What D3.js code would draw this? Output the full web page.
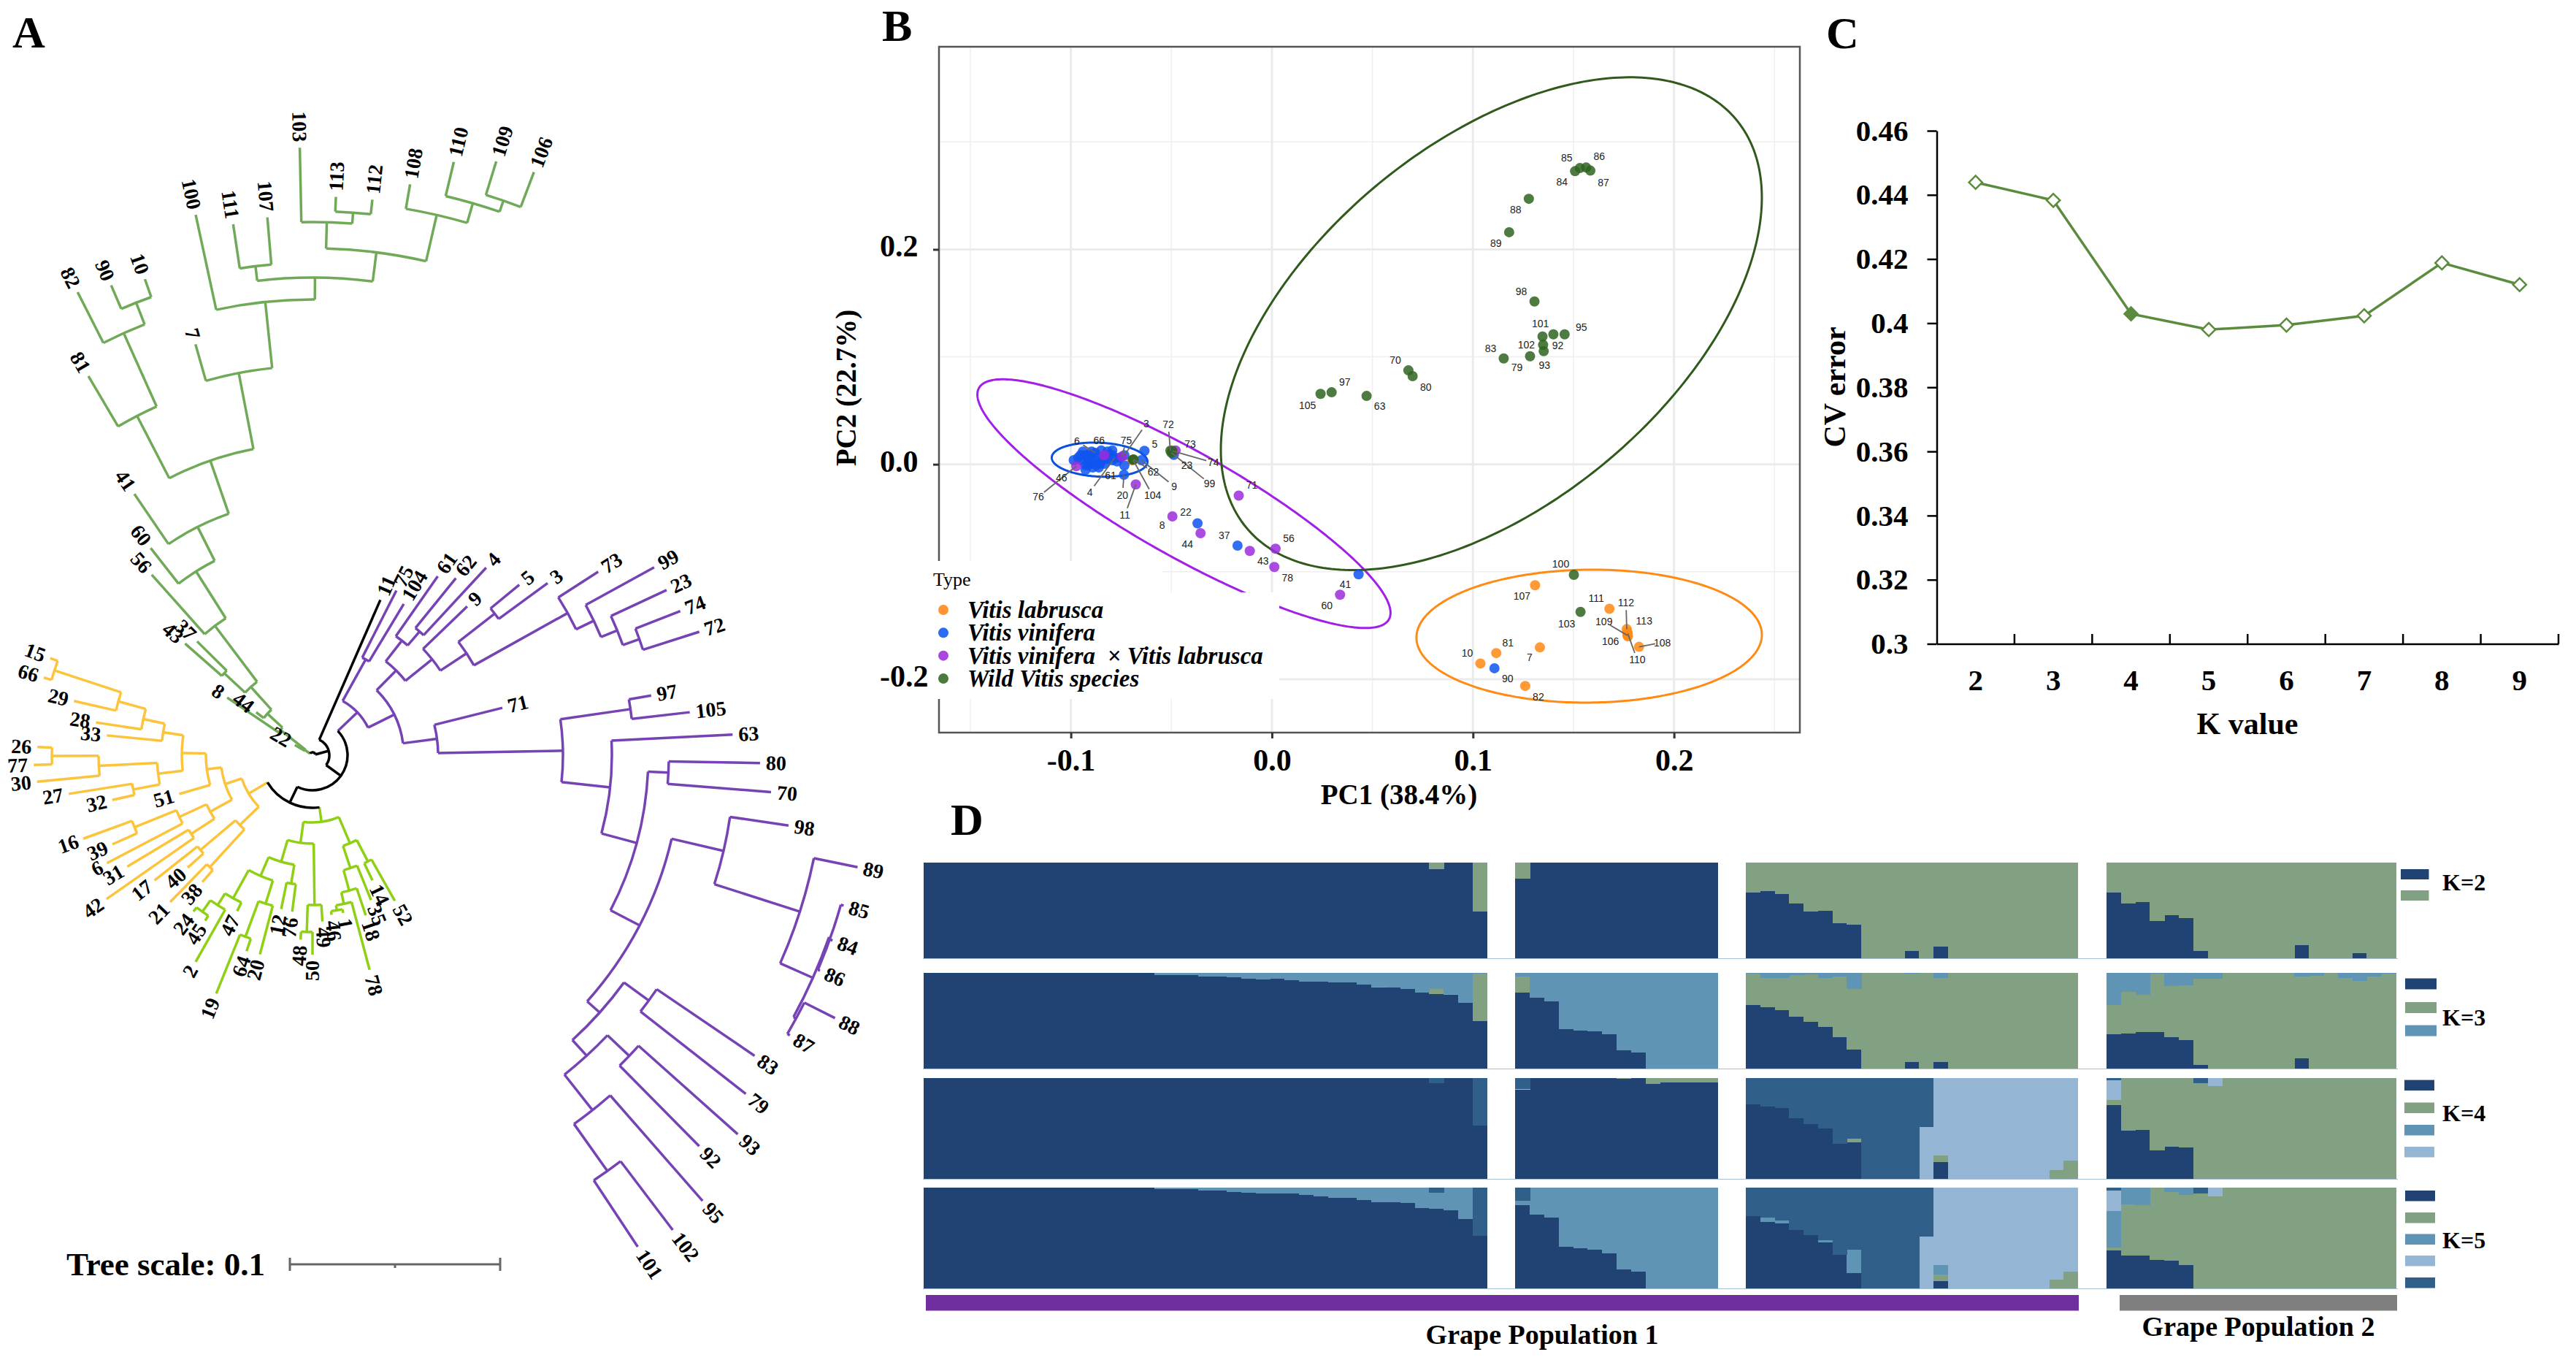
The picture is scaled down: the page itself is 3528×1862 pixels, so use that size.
<!DOCTYPE html>
<html>
<head>
<meta charset="utf-8">
<script src="https://cdn.jsdelivr.net/npm/d3@7"></script>
<style>
  body { margin: 0; background: white; }
</style>
</head>
<body>
<div id="fig"></div>
<script>
// ---- A: tree, [radius, child, child] for nodes and [name, radius, angle] for tips
// radius: 288 units = 0.1 on the scale bar, angle: degrees clockwise from north
const greenClade = [12, ["22",28,-60], [56, ["8",141,-56], [84, ["44",97,-52.7], [126,
  [165, ["43",232,-48.8], ["37",222,-45.4]],
  [222, ["56",331,-41.7], [298, ["60",360,-38], [350, ["41",433,-34.3], [427,
    [523, ["81",603,-30.6], [633, ["82",711,-26.9], [665, ["90",700,-23.2], ["10",691,-19.4]]]],
    [533, ["7",585,-15.9], [624, ["100",757,-12.2], [654,
      [674, ["111",735,-8.5], ["107",739,-4.8]],
      [694,
        [730, ["103",832,-1.2], [745, ["113",765,2.4], ["112",765,6.15]]],
        [759, ["108",793,9.7], [787, ["110",835,13.4], [803, ["109",851,17.2], ["106",854,20.8]]]]
      ]
    ]]]
  ]]]]
]]]]

const purpleUpper = [163,
  [199, ["61",299,35], [224, ["62",312,39], ["4",350,42.8]]],
  [210, ["9",294,46.1], [253,
    [316, ["5",367,50.5], ["3",399,53.8]],
    [400, ["73",465,57.3], [427, ["99",534,61.2], [451, ["23",535,65], [475, ["74",541,68.6], ["72",556,72.3]]]]]
  ]]
]
const purpleLower = [528,
  [570, ["83",732,124.2], ["79",753,128]],
  [557,
    [598, ["93",780,131.7], ["92",753,135.3]],
    [619, ["95",811,138.8], [698, ["102",816,142.8], ["101",807,146.5]]]
  ]
]
const purpleWild = [578, ["98",659,98.4], [701, ["89",762,101.6], [750,
  [752, ["85",756,105.8], ["84",756,109.6], ["86",755,113]],
  [754, ["88",801,116.7], ["87",758,120.4]]
]]]
const purpleClade = [85,
  [150, ["75",253,27], ["104",242,31.1]],
  [125, purpleUpper,
    [172, ["71",268,76], [343,
      [440, ["97",471,80], ["105",520,83.5]],
      [410, ["63",576,87.2], [460,
        [488, ["80",613,91], ["70",630,94.6]],
        [505, purpleWild, purpleLower]
      ]]
    ]]
  ]
]

const limeClade = [92,
  [121,
    [205, ["49",228,176.6], [242, ["50",273,180], ["48",253,183.7]]],
    [152,
      [178, ["76",216,187.4], ["12",215,191.5]],
      [180,
        [213, ["20",282,194.8], [265, ["64",283,198.6], ["19",352,202]]],
        [224, ["47",237,205.8], [243, ["2",325,209.5], [262, ["45",270,213], ["24",269,217.3]]]]
      ]
    ]
  ],
  [131,
    [164, ["52",229,150.5], ["14",190,154.4]],
    [163, ["35",214,158], [192, ["18",231,161.6], [208, ["78",304,165.1], [215, ["1",220,169], ["46",220,173.2]]]]]
  ]
]

const yellowClade = [102,
  [126,
    [146,
      [179,
        [207, [237, [276, [372, ["15",383,290.3], ["66",383,286.1]], ["29",335,282.8]], ["28",300,278.6]], ["33",283,275.5]],
        [213, [293, [357, ["26",377,271.7], ["77",382,268]], ["30",379,264.5]], [250, ["27",338,261], ["32",281,257.4]]]
      ],
      ["51",190,253.8]
    ],
    [160,
      [201, [263, ["16",334,250], ["39",300,246]], ["6",318,242.3]],
      [198, ["31",296,239], ["42",344,235.1]]
    ]
  ],
  [138,
    [201, ["17",276,231.6], ["40",230,228]],
    [208, ["21",280,224.1], ["38",230,221]]
  ]
]

const treeRoot = [4, greenClade, [23, ["11",232,23.6], [48, purpleClade, [72, limeClade, yellowClade]]]]
const cladeColors = new Map([[greenClade, "#70aa58"], [purpleClade, "#7543b3"], [limeClade, "#8fd014"], [yellowClade, "#fbc43a"]])

const scaleBarValues = [0, 0.05, 0.1]

// ---- B: PCA, [sample, PC1, PC2]
const labruscaPts = [["107",.1309,-.1126],["111",.1679,-.1345],["112",.1765,-.1534],["113",.1768,-.1563],["109",.1768,-.1592],
  ["110",.177,-.1575],["106",.1771,-.1602],["108",.1826,-.1699],["7",.1333,-.1704],["81",.1116,-.1757],["10",.1037,-.1854],["82",.126,-.2063],["",-.0697,.0039]]
const viniferaPts = [["90",.1107,-.1898],["41",.0431,-.1024],["37",-.0171,-.0757],["22",-.037,-.0549],
  ["",-.0986,.0039],["",-.094,.0118],["",-.0946,.0039],["46",-.0927,-.0052],["",-.0903,.0084],["6",-.0879,.0107],["66",-.0849,.0129],
  ["",-.0794,.0129],["4",-.0782,.0061],["",-.0855,.0005],["",-.0903,.0005],["",-.0927,.0084],["",-.0885,.0039],["",-.0843,.0039],
  ["",-.0812,.0084],["3",-.0734,.0084],["61",-.077,.0027],["",-.0734,-.0011],["20",-.0736,-.0097],["5",-.0634,.0125],["9",-.0649,.0039],
  ["",-.0915,.005],["",-.0867,.0061],["",-.0952,.0084],["",-.0831,.0084],["",-.0873,-.0007],["",-.0794,.0084],["23",-.0488,.0088],
  ["",-.0915,-.0007],["",-.0891,-.0029],["",-.0861,-.0029],["",-.0964,.0061],["",-.0818,.005],["",-.0831,.0005],["",-.0758,.0061],
  ["",-.0897,.0118],["",-.0818,.0118],["",-.0927,-.0007],["",-.0794,.0039]]
const hybridPts = [["71",-.0165,-.0291],["8",-.0495,-.0485],["44",-.0355,-.0641],["43",-.011,-.0806],["56",.0018,-.0786],["78",.0012,-.0956],
  ["60",.0339,-.1214],["76",-.0973,-.0018],["",-.0834,.0084],["75",-.0746,.0073],["11",-.0677,-.0188],["73",-.0479,.0129]]
const wildPts = [["84",.1508,.2728],["85",.1532,.2757],["86",.1563,.2762],["87",.1584,.2733],["88",.1278,.2471],["89",.118,.216],["98",.1306,.1515],
  ["95",.1456,.1209],["92",.14,.1209],["101",.1346,.1189],["102",.1349,.1112],["93",.1352,.1053],["79",.1284,.1005],["83",.1153,.0985],
  ["70",.0679,.0874],["80",.07,.082],["63",.0471,.0636],["97",.0297,.067],["105",.0242,.0655],["100",.1502,-.1029],["103",.1535,-.1374],
  ["72",-.0505,.0127],["74",-.0495,.0125],["99",-.0499,.0107],["62",-.0688,.0045],["104",-.0691,.0042]]

// confidence ellipses: extent of PC1, extent of PC2 and the PC1 value where PC2 is largest
const labruscaEllipse = {x: [.0719, .2437], y: [-.2218, -.0981], xAtTop: .1596}
const viniferaEllipse = {x: [-.1095, -.0619], y: [-.0116, .0202], xAtTop: -.0885}
const hybridEllipse = {x: [-.1465, .059], y: [-.1524, .0791], xAtTop: -.1339}
const wildEllipse = {x: [-.0254, .2437], y: [-.0985, .3602], xAtTop: .178}

const pcaTypes = ["Vitis labrusca", "Vitis vinifera", "Vitis vinifera\u00a0 × Vitis labrusca", "Wild Vitis species"]
const pcaXMajor = [-0.1, 0, 0.1, 0.2]
const pcaYMajor = [-0.2, 0, 0.2]
const pcaXMinor = [-0.15, -0.05, 0.05, 0.15, 0.25]
const pcaYMinor = [-0.1, 0.1, 0.3]

// ---- C: cross validation
const kValues = [2, 3, 4, 5, 6, 7, 8, 9]
const cvError = [.4439, .4383, .4029, .398, .3994, .4023, .4188, .412]
const cvTicks = [.3, .32, .34, .36, .38, .4, .42, .44, .46]

// ---- D: admixture, percent per bar, four groups of accessions
const k2Navy = [
  [100,100,100,100,100,100,100,100,100,100,100,100,100,100,100,100,100,100,100,100,100,100,100,100,100,100,100,100,100,100,100,100,100,100,100,93,100,100,49],
  [83,100,100,100,100,100,100,100,100,100,100,100,100,100],
  [69,70,67,57,49,50,37,35,0,0,0,8,0,12,0,0,0,0,0,0,0,0,0],
  [69,57,59,39,45,42,8,0,0,0,0,0,0,14,0,0,0,5,0,0]]
const k2Sage = [
  [0,0,0,0,0,0,0,0,0,0,0,0,0,0,0,0,0,0,0,0,0,0,0,0,0,0,0,0,0,0,0,0,0,0,0,7,0,0,51],
  [17,0,0,0,0,0,0,0,0,0,0,0,0,0],
  [31,30,33,43,51,50,63,65,100,100,100,92,100,88,100,100,100,100,100,100,100,100,100],
  [31,43,41,61,55,58,92,100,100,100,100,100,100,86,100,100,100,95,100,100]]

const k3Navy = [
  [100,100,100,100,100,100,100,100,100,100,100,100,100,100,100,100,97.5,97.5,97.5,96.5,96.5,95.5,94,93,94,92,91,90.5,90,90,87.5,85,85,83.5,79.5,78,77,69,49.5],
  [79.5,74,70,41.5,40,39,36,19,17,0,0,0,0,0],
  [66.5,64.5,61,54,49,43.5,32.5,19.5,0,0,0,7,0,7,0,0,0,0,0,0,0,0,0],
  [36,37,38,38,32.5,30,3.5,0,0,0,0,0,0,10.5,0,0,0,0,0,0]]
const k3Sage = [
  [0,0,0,0,0,0,0,0,0,0,0,0,0,0,0,0,0,0,0,0,0,0,0,.5,0,0,0,0,0,0,0,.5,0,0,0,5.5,.5,0,50],
  [16.5,0,0,0,0,0,0,0,0,0,0,0,0,0],
  [32.5,30,33.5,43.5,49.5,51,63.5,63.5,100,100,100,92.5,100,88,100,100,100,100,100,100,100,100,100],
  [30.5,43,39,61.5,54,57,90.5,94,100,100,100,100,100,85.5,97,100,95,91.5,96,99.5]]
const k3Mid = [
  [0,0,0,0,0,0,0,0,0,0,0,0,0,0,0,0,2.5,2.5,2.5,3.5,3.5,4.5,6,6.5,6,8,9,9.5,10,10,12.5,14.5,15,16.5,20.5,16.5,22.5,31,.5],
  [4,26,30,58.5,60,61,64,81,83,100,100,100,100,100],
  [1,5.5,5.5,2.5,1.5,5.5,4,17,0,0,0,.5,0,5,0,0,0,0,0,0,0,0,0],
  [33.5,20,23,.5,13.5,13,6,6,0,0,0,0,0,4,3,0,5,8.5,4,.5]]

const k4Navy = [
  [100,100,100,100,100,100,100,100,100,100,100,100,100,100,100,100,100,100,100,100,100,100,100,100,100,100,100,100,100,100,100,100,100,100,100,95,100,100,53],
  [88.5,100,100,100,100,100,100,99,100,94.5,95.5,95.5,95.5,95.5],
  [74,72,70,60,54.5,50,34.5,36.5,0,0,0,0,0,17,0,0,0,0,0,0,0,0,0],
  [73,48,48.5,28.5,32,31,0,0,0,0,0,0,0,0,0,0,0,0,0,0]]
const k4Sage = [
  [0,0,0,0,0,0,0,0,0,0,0,0,0,0,0,0,0,0,0,0,0,0,0,0,0,0,0,0,0,0,0,0,0,0,0,0,0,0,0],
  [0,0,0,0,0,0,0,1,0,5.5,4.5,4.5,4.5,4.5],
  [0,0,0,0,0,0,0,3.5,0,0,0,0,0,6.5,0,0,0,0,0,0,0,9,18],
  [5,52,51.5,71.5,68,69,95,92,100,100,100,100,100,100,100,100,100,100,100,100]]
const k4Light = [
  [0,0,0,0,0,0,0,0,0,0,0,0,0,0,0,0,0,0,0,0,0,0,0,0,0,0,0,0,0,0,0,0,0,0,0,0,0,0,0],
  [.5,0,0,0,0,0,0,0,0,0,0,0,0,0],
  [0,0,0,0,0,0,0,0,0,0,0,0,51.5,76.5,100,100,100,100,100,100,100,91,82],
  [20,0,0,0,0,0,0,8,0,0,0,0,0,0,0,0,0,0,0,0]]
const k4Steel = [
  [0,0,0,0,0,0,0,0,0,0,0,0,0,0,0,0,0,0,0,0,0,0,0,0,0,0,0,0,0,0,0,0,0,0,0,5,0,0,47],
  [11,0,0,0,0,0,0,0,0,0,0,0,0,0],
  [26,28,30,40,45.5,50,65.5,60,100,100,100,100,48.5,0,0,0,0,0,0,0,0,0,0],
  [2,0,0,0,0,0,5,0,0,0,0,0,0,0,0,0,0,0,0,0]]

const k5Navy = [
  [100,100,100,100,100,100,100,100,100,100,100,100,100,100,100,100,98.7,98.7,98.7,97.4,97.4,96,95,94,94,94,92.4,91,90,90,87.5,85.5,85.5,84.5,79.5,79,77.5,68.5,52],
  [82.5,73.5,70,41,40,38.5,35,19,17,0,0,0,0,0],
  [72,66,64.5,58,53,45.5,33.5,15,0,0,0,0,0,7.5,0,0,0,0,0,0,0,0,0],
  [38,32.5,32.5,28,27.5,23.5,0,0,0,0,0,0,0,0,0,0,0,0,0,0]]
const k5Sage = [
  [0,0,0,0,0,0,0,0,0,0,0,0,0,0,0,0,0,0,0,0,0,0,0,0,0,0,0,0,0,0,0,0,0,0,0,0,0,0,0],
  [0,0,0,0,0,0,0,0,0,0,0,0,0,0],
  [0,0,0,0,0,0,0,0,0,0,0,0,0,6,0,0,0,0,0,0,0,8.5,17],
  [2.5,50.5,50,72,68,69.5,94.5,91,100,100,100,100,100,100,100,100,100,100,100,100]]
const k5Mid = [
  [0,0,0,0,0,0,0,0,0,0,0,0,0,0,0,0,1.3,1.3,1.3,2.6,2.6,4,5,6,6,6,7.6,9,10,10,12.5,14.5,14.5,15.5,20.5,16,22.5,31.5,0],
  [4.5,26.5,30,59,60,61.5,65,81,83,100,100,100,100,100],
  [0,4.5,3,0,0,2.5,0,23.5,0,0,0,0,0,10,0,0,0,0,0,0,0,0,0],
  [36.5,17,17.5,0,4.5,7,0,0,0,0,0,0,0,0,0,0,0,0,0,0]]
const k5Light = [
  [0,0,0,0,0,0,0,0,0,0,0,0,0,0,0,0,0,0,0,0,0,0,0,0,0,0,0,0,0,0,0,0,0,0,0,0,0,0,0],
  [0,0,0,0,0,0,0,0,0,0,0,0,0,0],
  [0,0,0,0,0,0,0,0,0,0,0,0,51.5,76.5,100,100,100,100,100,100,100,91.5,83],
  [20,0,0,0,0,0,0,9,0,0,0,0,0,0,0,0,0,0,0,0]]
const k5Steel = [
  [0,0,0,0,0,0,0,0,0,0,0,0,0,0,0,0,0,0,0,0,0,0,0,0,0,0,0,0,0,0,0,0,0,0,0,5,0,0,48],
  [13,0,0,0,0,0,0,0,0,0,0,0,0,0],
  [28,29.5,32.5,42,47,52,66.5,61.5,100,100,100,100,48.5,0,0,0,0,0,0,0,0,0,0],
  [3,0,0,0,0,0,5.5,0,0,0,0,0,0,0,0,0,0,0,0,0]]

const serif = '"Liberation Serif", serif'
const sans = '"Liberation Sans", sans-serif'

let svg = d3.select("#fig").append("svg").attr("width", 3528).attr("height", 1862)
  .style("display", "block").style("background", "white")

function boldText(g, str, x, y, size, anchor = "start") {
  return g.append("text").attr("x", x).attr("y", y).text(str)
    .attr("font-family", serif).attr("font-weight", "bold")
    .attr("font-size", size).attr("text-anchor", anchor).attr("fill", "black")
}

boldText(svg, "A", 17, 65, 62)
boldText(svg, "B", 1208, 56, 62)
boldText(svg, "C", 2501, 66, 62)
boldText(svg, "D", 1302, 1143, 62)

drawTree()
drawPca()
drawCv()
drawAdmixture()

function drawTree() {
  let g = svg.append("g").attr("transform", "translate(428,1034)")
  let treeR = d3.scaleLinear().domain([0, 288]).range([0, 288])
  let toRad = d3.scaleLinear().domain([0, 180]).range([0, Math.PI])

  let root = d3.hierarchy(treeRoot, d => typeof d[0] == "number" ? d.slice(1) : null)
  root.eachAfter(d => {
    d.r = d.children ? d.data[0] : d.data[1]
    if (d.children) {
      let angles = d.children.map(c => c.a)
      d.a0 = d3.min(angles)
      d.a1 = d3.max(angles)
      d.a = (d.a0 + d.a1) / 2
    } else {
      d.a = d.data[2]
    }
  })
  root.eachBefore(d => {
    d.color = cladeColors.get(d.data) || (d.parent ? d.parent.color : "black")
  })

  let stem = d3.lineRadial().angle(p => toRad(p[0])).radius(p => treeR(p[1]))
  let arc = d3.arc()

  g.selectAll("path.stem")
    .data(root.descendants().filter(d => d.parent))
    .enter().append("path")
    .attr("class", "stem")
    .attr("d", d => stem([[d.a, d.parent.r], [d.a, d.r]]))
    .attr("fill", "none")
    .attr("stroke", d => d.color)
    .attr("stroke-width", 3.5)

  g.selectAll("path.span")
    .data(root.descendants().filter(d => d.children))
    .enter().append("path")
    .attr("class", "span")
    .attr("d", d => arc({innerRadius: treeR(d.r), outerRadius: treeR(d.r), startAngle: toRad(d.a0), endAngle: toRad(d.a1)}))
    .attr("fill", "none")
    .attr("stroke", d => d.color)
    .attr("stroke-width", 3.5)

  g.selectAll("text.tip")
    .data(root.leaves())
    .enter().append("text")
    .attr("class", "tip")
    .attr("transform", d => {
      let a = (d.a + 360) % 360
      let rot = a < 180 ? a - 90 : a + 90
      let rr = treeR(d.r) + 8
      let rad = toRad(d.a)
      return `translate(${rr * Math.sin(rad)},${-rr * Math.cos(rad)}) rotate(${rot})`
    })
    .attr("text-anchor", d => (d.a + 360) % 360 < 180 ? "start" : "end")
    .attr("dy", "0.33em")
    .attr("font-family", serif).attr("font-weight", "bold").attr("font-size", 28)
    .text(d => d.data[0])

  // scale bar
  boldText(svg, "Tree scale: 0.1", 91, 1746, 45)
  let bar = d3.scaleLinear().domain([0, 0.1]).range([397, 685])
  let barG = svg.append("g").attr("stroke", "#666").attr("stroke-width", 3)
  barG.append("line").attr("x1", bar(0)).attr("x2", bar(0.1)).attr("y1", 1731).attr("y2", 1731)
  barG.selectAll("line.t").data(scaleBarValues).enter().append("line")
    .attr("class", "t")
    .attr("x1", d => bar(d)).attr("x2", d => bar(d))
    .attr("y1", d => d == 0.05 ? 1731 : 1722).attr("y2", d => d == 0.05 ? 1736 : 1740)
}

function drawPca() {
  let x = d3.scaleLinear().domain([-0.1656, 0.2626]).range([1286, 2465])
  let y = d3.scaleLinear().domain([-0.2497, 0.3886]).range([1003, 64])
  let g = svg.append("g")

  // grid
  g.selectAll("line.xminor").data(pcaXMinor).enter().append("line").attr("class", "xminor")
    .attr("x1", d => x(d)).attr("x2", d => x(d)).attr("y1", 64).attr("y2", 1003)
    .attr("stroke", "#efefef").attr("stroke-width", 1.5)
  g.selectAll("line.yminor").data(pcaYMinor).enter().append("line").attr("class", "yminor")
    .attr("y1", d => y(d)).attr("y2", d => y(d)).attr("x1", 1286).attr("x2", 2465)
    .attr("stroke", "#efefef").attr("stroke-width", 1.5)
  g.selectAll("line.xmajor").data(pcaXMajor).enter().append("line").attr("class", "xmajor")
    .attr("x1", d => x(d)).attr("x2", d => x(d)).attr("y1", 64).attr("y2", 1003)
    .attr("stroke", "#ebebeb").attr("stroke-width", 3)
  g.selectAll("line.ymajor").data(pcaYMajor).enter().append("line").attr("class", "ymajor")
    .attr("y1", d => y(d)).attr("y2", d => y(d)).attr("x1", 1286).attr("x2", 2465)
    .attr("stroke", "#ebebeb").attr("stroke-width", 3)

  // ellipses
  let ellipses = [[labruscaEllipse, "#ff8a14"], [viniferaEllipse, "#0a50e0"], [hybridEllipse, "#a21fe8"], [wildEllipse, "#2f5a1c"]]
  let line = d3.line().curve(d3.curveLinearClosed)
  ellipses.forEach(([e, color]) => {
    let cx = (e.x[0] + e.x[1]) / 2, ax = (e.x[1] - e.x[0]) / 2
    let cy = (e.y[0] + e.y[1]) / 2, ay = (e.y[1] - e.y[0]) / 2
    let phase = Math.acos((e.xAtTop - cx) / ax)
    let outline = d3.range(0, 2 * Math.PI, 0.02).map(t => [x(cx + ax * Math.cos(t)), y(cy + ay * Math.cos(t - phase))])
    g.append("path").attr("d", line(outline)).attr("fill", "none").attr("stroke", color).attr("stroke-width", 3)
  })

  // points, see through so that the clusters go darker
  let colors = ["#ff8a14", "#0f55f0", "#9b2bdc", "#2f6420"]
  let keyColors = ["#ff9530", "#2c6bf2", "#aa47e2", "#4a7a3c"]
  let sets = [labruscaPts, viniferaPts, hybridPts, wildPts]
  sets.forEach((pts, i) => {
    g.selectAll("circle.t" + i).data(pts).enter().append("circle")
      .attr("class", "t" + i)
      .attr("cx", d => x(d[1])).attr("cy", d => y(d[2])).attr("r", 7)
      .attr("fill", colors[i]).attr("fill-opacity", 0.85)
  })

  // repel style label offsets, in pixels
  let nudge = {"84":[-18,15],"85":[-18,-14],"86":[18,-15],"87":[18,16],"88":[-18,15],"89":[-18,15],"98":[-18,-14],"95":[23,-10],"92":[6,15],
    "101":[-3,-18],"102":[-23,0],"93":[1,19],"79":[-18,15],"83":[-18,-14],"70":[-18,-14],"80":[18,15],"63":[18,14],"97":[18,-14],"105":[-18,16],
    "100":[-18,-15],"103":[-19,16],"107":[-18,15],"111":[-18,-14],"112":[-1,-36],"113":[23,-15],"109":[-32,-19],"106":[-24,7],"110":[13,36],
    "108":[32,-6],"7":[-14,14],"81":[16,-14],"10":[-18,-14],"82":[18,15],"90":[18,14],"41":[-18,14],"37":[-18,-14],"22":[-16,-15],
    "71":[18,-14],"8":[-14,12],"44":[-18,15],"43":[18,14],"56":[18,-14],"78":[18,15],"60":[-18,15],
    "6":[-25,-16],"66":[-3,-14],"75":[6,-22],"3":[30,-43],"5":[14,-9],"62":[27,17],"9":[45,36],"104":[27,49],"61":[-9,19],"4":[-34,47],"20":[-2,28],
    "11":[-15,42],"46":[-33,11],"76":[-52,42],"72":[-3,-36],"73":[20,-9],"74":[56,16],"23":[18,14],"99":[52,42]}
  let leaders = ["112","109","110","108","6","75","3","62","9","104","4","20","11","76","72","74","99"]
  let named = sets.flat().filter(d => d[0] != "" && nudge[d[0]])

  g.selectAll("line.leader").data(named.filter(d => leaders.includes(d[0]))).enter().append("line")
    .attr("class", "leader")
    .attr("x1", d => x(d[1])).attr("y1", d => y(d[2]))
    .attr("x2", d => {
      let n = nudge[d[0]], len = Math.hypot(n[0], n[1])
      return x(d[1]) + n[0] * (1 - 10 / len)
    })
    .attr("y2", d => {
      let n = nudge[d[0]], len = Math.hypot(n[0], n[1])
      return y(d[2]) + n[1] * (1 - 10 / len)
    })
    .attr("stroke", "#666").attr("stroke-width", 1.8)

  g.selectAll("text.lab").data(named).enter().append("text")
    .attr("class", "lab")
    .attr("x", d => x(d[1]) + nudge[d[0]][0]).attr("y", d => y(d[2]) + nudge[d[0]][1])
    .attr("dy", "0.35em").attr("text-anchor", "middle")
    .attr("font-family", sans).attr("font-size", 14).attr("fill", "#222")
    .text(d => d[0])

  // frame and axes
  g.append("rect").attr("x", 1286).attr("y", 64).attr("width", 1179).attr("height", 939)
    .attr("fill", "none").attr("stroke", "#555").attr("stroke-width", 2.5)

  let xAxis = g.append("g").attr("transform", "translate(0,1003)")
    .call(d3.axisBottom(x).tickValues(pcaXMajor).tickFormat(d => d.toFixed(1)).tickSize(8).tickPadding(14))
  let yAxis = g.append("g").attr("transform", "translate(1286,0)")
    .call(d3.axisLeft(y).tickValues(pcaYMajor).tickFormat(d => d.toFixed(1)).tickSize(8))
  xAxis.select(".domain").remove()
  yAxis.select(".domain").remove()
  xAxis.selectAll("line").attr("stroke", "#333").attr("stroke-width", 3)
  yAxis.selectAll("line").attr("stroke", "#333").attr("stroke-width", 3)
  xAxis.selectAll("text").attr("font-family", serif).attr("font-weight", "bold").attr("font-size", 42).attr("fill", "black")
  yAxis.selectAll("text").attr("font-family", serif).attr("font-weight", "bold").attr("font-size", 42).attr("fill", "black")
    .attr("text-anchor", "start").attr("x", -81).attr("y", -4)

  boldText(g, "PC1 (38.4%)", 1916, 1101, 39, "middle")
  boldText(g, "PC2 (22.7%)", 0, 0, 39, "middle").attr("transform", "translate(1172,531) rotate(-90)")

  // legend box sits over the plot
  g.append("rect").attr("x", 1277).attr("y", 768).attr("width", 315).attr("height", 43).attr("fill", "white")
  g.append("rect").attr("x", 1277).attr("y", 811).attr("width", 475).attr("height", 146).attr("fill", "white")
  g.append("text").attr("x", 1278).attr("y", 802).text("Type")
    .attr("font-family", serif).attr("font-size", 26)
  let legendY = d3.scalePoint().domain(pcaTypes).range([835, 929])
  pcaTypes.forEach((t, i) => {
    g.append("circle").attr("cx", 1292).attr("cy", legendY(t)).attr("r", 7).attr("fill", keyColors[i])
    boldText(g, t, 1325, legendY(t) + 11, 33).attr("font-style", "italic")
  })
}

function drawCv() {
  let x = d3.scaleBand().domain(kValues).range([2652.5, 3504])
  let y = d3.scaleLinear().domain([0.3, 0.46]).range([881.5, 179])
  let g = svg.append("g")

  let yAxis = g.append("g").attr("transform", "translate(2652.5,0)")
    .call(d3.axisLeft(y).tickValues(cvTicks).tickFormat(d => String(d)).tickSize(13).tickSizeOuter(0).tickPadding(26))
  let xAxis = g.append("g").attr("transform", "translate(0,881.5)")
    .call(d3.axisBottom(x).tickSize(0).tickPadding(34))
  yAxis.selectAll("line,path").attr("stroke", "black").attr("stroke-width", 2.5)
  xAxis.selectAll("path").attr("stroke", "black").attr("stroke-width", 2.5)
  g.selectAll("text").attr("font-family", serif).attr("font-weight", "bold").attr("font-size", 41).attr("fill", "black")

  // ticks fall between the categories
  g.selectAll("line.band").data(kValues).enter().append("line").attr("class", "band")
    .attr("x1", d => x(d) + x.step()).attr("x2", d => x(d) + x.step())
    .attr("y1", 881.5).attr("y2", 868)
    .attr("stroke", "black").attr("stroke-width", 2.5)

  let green = "#5b8c3e"
  let line = d3.line().x((d, i) => x(kValues[i]) + x.bandwidth() / 2).y(d => y(d))
  g.append("path").attr("d", line(cvError)).attr("fill", "none").attr("stroke", green).attr("stroke-width", 3.5)

  let diamond = d3.symbol().type(d3.symbolSquare).size(165)
  g.selectAll("path.mark").data(cvError).enter().append("path")
    .attr("class", "mark")
    .attr("d", diamond)
    .attr("transform", (d, i) => `translate(${x(kValues[i]) + x.bandwidth() / 2},${y(d)}) rotate(45)`)
    .attr("fill", (d, i) => kValues[i] == 4 ? green : "white")
    .attr("stroke", green).attr("stroke-width", 2.5)

  boldText(g, "K value", 3078, 1005, 42, "middle")
  boldText(g, "CV error", 0, 0, 42, "middle").attr("transform", "translate(2527,530) rotate(-90)")
}

function drawAdmixture() {
  let g = svg.append("g")
  let colors = {navy: "#204374", sage: "#82a182", mid: "#6094b5", light: "#94b6d4", steel: "#306089"}

  let groupRanges = [[1264.7, 2036.5], [2075.4, 2352.7], [2391, 2845.6], [2885, 3281]]

  let rows = [
    {label: "K=2", top: 1181, bottom: 1312, labelY: 1208, keys: ["navy", "sage"], values: [k2Navy, k2Sage],
      swatchX: 3288, swatchW: 38.5, swatchH: 14, swatchY: [1190, 1219]},
    {label: "K=3", top: 1332, bottom: 1463, labelY: 1393, keys: ["navy", "sage", "mid"], values: [k3Navy, k3Sage, k3Mid],
      swatchX: 3294, swatchW: 43, swatchH: 15, swatchY: [1339.5, 1372, 1403.6]},
    {label: "K=4", top: 1476, bottom: 1614, labelY: 1524, keys: ["navy", "sage", "light", "steel"], values: [k4Navy, k4Sage, k4Light, k4Steel],
      swatchX: 3293, swatchW: 41, swatchH: 14.5, swatchY: [1478.6, 1509.5, 1540, 1570],
      swatchKeys: ["navy", "sage", "mid", "light"]},
    {label: "K=5", top: 1626, bottom: 1764, labelY: 1698, keys: ["navy", "sage", "mid", "light", "steel"], values: [k5Navy, k5Sage, k5Mid, k5Light, k5Steel],
      swatchX: 3294, swatchW: 41, swatchH: 14.5, swatchY: [1630, 1660, 1689.5, 1719, 1749]}
  ]

  rows.forEach(row => {
    let y = d3.scaleLinear().domain([0, 100]).range([row.bottom, row.top])

    g.append("line").attr("x1", 1264).attr("x2", 3284).attr("y1", row.bottom + 0.5).attr("y2", row.bottom + 0.5)
      .attr("stroke", "#a9c0d2").attr("stroke-width", 1)

    groupRanges.forEach((range, gi) => {
      let n = row.values[0][gi].length
      let x = d3.scaleBand().domain(d3.range(n)).range(range)
      let table = d3.range(n).map(i => {
        let bar = {i: i}
        row.keys.forEach((k, ki) => bar[k] = row.values[ki][gi][i])
        return bar
      })
      let layers = d3.stack().keys(row.keys)(table)
      g.selectAll(null).data(layers).enter().append("g")
        .attr("fill", d => colors[d.key])
        .selectAll("rect").data(d => d.filter(s => s[1] > s[0])).enter().append("rect")
        .attr("x", d => x(d.data.i))
        .attr("width", x.bandwidth() + 0.5)
        .attr("y", d => y(d[1]))
        .attr("height", d => y(d[0]) - y(d[1]))
        .attr("shape-rendering", "crispEdges")
    })

    // legend swatches
    let swatchKeys = row.swatchKeys || row.keys
    swatchKeys.forEach((k, i) => {
      g.append("rect").attr("x", row.swatchX).attr("y", row.swatchY[i])
        .attr("width", row.swatchW).attr("height", row.swatchH).attr("fill", colors[k])
    })
    boldText(g, row.label, 3345, row.labelY + 11, 32)
  })

  g.append("rect").attr("x", 1268).attr("y", 1773).attr("width", 1579).attr("height", 21.5).attr("fill", "#6f2f9f")
  g.append("rect").attr("x", 2903).attr("y", 1773).attr("width", 380).attr("height", 21.5).attr("fill", "#7f7f7f")
  boldText(g, "Grape Population 1", 2112, 1840, 38, "middle")
  boldText(g, "Grape Population 2", 3093, 1829, 38, "middle")
}
</script>
</body>
</html>
